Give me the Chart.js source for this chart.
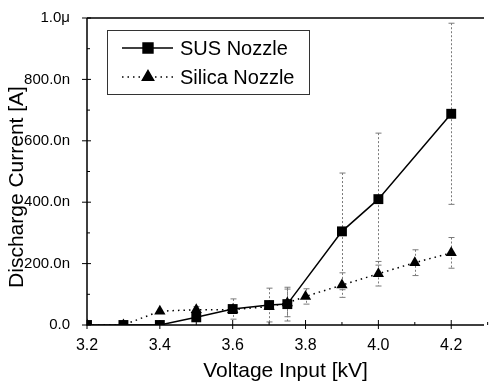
<!DOCTYPE html>
<html>
<head>
<meta charset="utf-8">
<script src="https://cdn.jsdelivr.net/npm/chart.js@4.4.0/dist/chart.umd.min.js"></script>
<style>
  html, body { margin: 0; padding: 0; background: #fff; }
  #wrap { width: 491px; height: 388px; }
</style>
</head>
<body>
<div id="wrap"><canvas id="dischargeChart"></canvas></div>
<script>
// voltage [kV], current [nA], error bar half-width [nA]
const susVoltage = [3.2, 3.3, 3.4, 3.5, 3.6, 3.7, 3.75, 3.9, 4.0, 4.2];
const susCurrent = [0, 0, 0, 25, 52, 65, 68, 305, 410, 688];
const susError   = [0, 0, 0, 8, 33, 55, 55, 190, 215, 295];

const silicaVoltage = [3.2, 3.3, 3.4, 3.5, 3.6, 3.7, 3.75, 3.8, 3.9, 4.0, 4.1, 4.2];
const silicaCurrent = [0, 0, 45, 50, 50, 60, 72, 93, 130, 167, 203, 235];
const silicaError   = [0, 0, 0, 10, 0, 0, 45, 25, 40, 40, 42, 50];

const xTicks = [3.2, 3.4, 3.6, 3.8, 4.0, 4.2];
const xMinorTicks = [3.3, 3.5, 3.7, 3.9, 4.1, 4.3];
const yTicks = [0, 200, 400, 600, 800, 1000];
const yMinorTicks = [100, 300, 500, 700, 900];

const seriesNames = ['SUS Nozzle', 'Silica Nozzle'];
const yTitle = 'Discharge Current [A]';

const FONT = '"Liberation Sans", Arial, sans-serif';

function toPoints(xs, ys, errs) {
    return xs.map((x, i) => ({ x: x, y: ys[i], err: errs[i] }));
}

function currentLabel(v) {
    if (v === 0) return '0.0';
    if (v >= 1000) return (v / 1000).toFixed(1) + 'μ';
    return v.toFixed(1) + 'n';
}

// vertical error bars, drawn under the markers
const errorBars = {
    id: 'errorBars',
    beforeDatasetsDraw(chart) {
        const { ctx, scales: { x, y } } = chart;
        ctx.save();
        ctx.strokeStyle = '#7a7a7a';
        ctx.lineWidth = 1;
        chart.data.datasets.forEach(ds => {
            ds.data.forEach(p => {
                if (!p.err) return;
                const px = Math.round(x.getPixelForValue(p.x)) + 0.5;
                const top = y.getPixelForValue(p.y + p.err);
                const bot = y.getPixelForValue(Math.max(0, p.y - p.err));
                ctx.setLineDash([2, 2]);
                ctx.beginPath();
                ctx.moveTo(px, top);
                ctx.lineTo(px, bot);
                ctx.stroke();
                ctx.setLineDash([]);
                ctx.beginPath();
                ctx.moveTo(px - 3, top); ctx.lineTo(px + 3, top);
                if (p.y - p.err > 0) { ctx.moveTo(px - 3, bot); ctx.lineTo(px + 3, bot); }
                ctx.stroke();
            });
        });
        ctx.restore();
    }
};

// axis frame, tick marks, rotated y title and the boxed legend
const frame = {
    id: 'frame',
    afterDraw(chart) {
        const { ctx, chartArea: a, scales: { x, y } } = chart;
        ctx.save();
        ctx.strokeStyle = '#000';
        ctx.lineWidth = 1.5;
        ctx.beginPath();
        ctx.moveTo(a.left, a.top);
        ctx.lineTo(a.right, a.top);
        ctx.moveTo(a.left, a.top);
        ctx.lineTo(a.left, a.bottom);
        ctx.lineTo(a.right, a.bottom);
        ctx.stroke();

        ctx.lineWidth = 1;
        ctx.beginPath();
        xTicks.forEach(v => {
            const px = x.getPixelForValue(v);
            ctx.moveTo(px, a.bottom + 4); ctx.lineTo(px, a.bottom - 5);
        });
        xMinorTicks.forEach(v => {
            const px = x.getPixelForValue(v);
            ctx.moveTo(px, a.bottom); ctx.lineTo(px, a.bottom - 3);
        });
        yTicks.forEach(v => {
            const py = y.getPixelForValue(v);
            ctx.moveTo(a.left - 5, py); ctx.lineTo(a.left + 4, py);
        });
        yMinorTicks.forEach(v => {
            const py = y.getPixelForValue(v);
            ctx.moveTo(a.left, py); ctx.lineTo(a.left + 3, py);
        });
        ctx.stroke();

        // y axis title
        ctx.save();
        ctx.translate(17, 187);
        ctx.rotate(-Math.PI / 2);
        ctx.font = '21px ' + FONT;
        ctx.fillStyle = '#000';
        ctx.textAlign = 'center';
        ctx.textBaseline = 'middle';
        ctx.fillText(yTitle, 0, 0);
        ctx.restore();

        // legend box
        const lx = 107, ly = 30, lw = 202, lh = 64;
        ctx.strokeStyle = '#333';
        ctx.lineWidth = 1;
        ctx.strokeRect(lx + 0.5, ly + 0.5, lw, lh);
        ctx.font = '20px ' + FONT;
        ctx.textBaseline = 'middle';
        chart.data.datasets.forEach((ds, i) => {
            const cy = ly + 18 + i * 29;
            ctx.strokeStyle = '#000';
            ctx.lineWidth = ds.borderWidth;
            ctx.setLineDash(ds.borderDash || []);
            ctx.beginPath();
            ctx.moveTo(lx + 15, cy); ctx.lineTo(lx + 66, cy);
            ctx.stroke();
            ctx.setLineDash([]);
            Chart.helpers.drawPoint(ctx, {
                pointStyle: ds.pointStyle, radius: ds.pointRadius, borderWidth: 1, rotation: 0
            }, lx + 41, cy);
            ctx.fillStyle = '#000';
            ctx.fill();
            ctx.fillText(seriesNames[i], lx + 73, cy + 1);
        });
        ctx.restore();
    }
};

new Chart(document.getElementById('dischargeChart'), {
    type: 'line',
    data: {
        datasets: [{
            label: seriesNames[0],
            data: toPoints(susVoltage, susCurrent, susError),
            borderColor: '#000',
            backgroundColor: '#000',
            borderWidth: 1.5,
            pointStyle: 'rect',
            pointRadius: 7,
            pointBorderWidth: 0,
        }, {
            label: seriesNames[1],
            data: toPoints(silicaVoltage, silicaCurrent, silicaError),
            borderColor: '#000',
            backgroundColor: '#000',
            borderWidth: 1.5,
            borderDash: [1.5, 4],
            pointStyle: 'triangle',
            pointRadius: 6.5,
            pointBorderWidth: 0,
        }],
    },
    options: {
        responsive: true,
        maintainAspectRatio: false,
        animation: false,
        layout: { padding: { top: 14, right: 0, bottom: 0, left: 0 } },
        plugins: {
            legend: { display: false },
            tooltip: { enabled: false },
        },
        scales: {
            x: {
                type: 'linear',
                min: 3.2,
                max: 4.29,
                afterBuildTicks: s => { s.ticks = xTicks.map(v => ({ value: v })); },
                afterFit: s => { s.height = 63; },
                grid: { display: false },
                border: { display: false },
                ticks: {
                    color: '#000',
                    padding: 3,
                    font: { family: FONT, size: 16 },
                    callback: v => v.toFixed(1),
                },
                title: {
                    display: true,
                    text: 'Voltage Input [kV]',
                    color: '#000',
                    font: { family: FONT, size: 21 },
                    padding: { top: 4 },
                },
            },
            y: {
                min: 0,
                max: 1000,
                afterBuildTicks: s => { s.ticks = yTicks.map(v => ({ value: v })); },
                afterFit: s => { s.width = 87; },
                grid: { display: false },
                border: { display: false },
                ticks: {
                    color: '#000',
                    padding: 9,
                    font: { family: FONT, size: 15 },
                    callback: v => currentLabel(v),
                },
            },
        },
    },
    plugins: [errorBars, frame],
});
</script>
</body>
</html>
